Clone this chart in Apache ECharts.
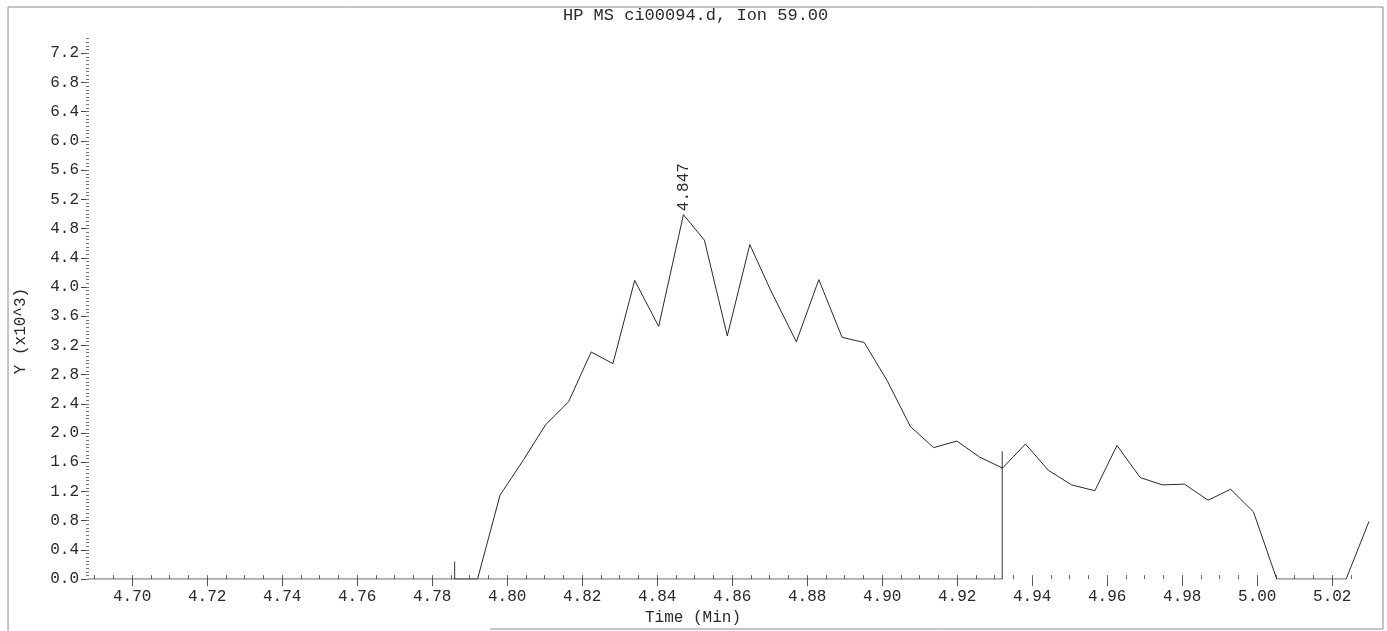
<!DOCTYPE html>
<html>
<head>
<meta charset="utf-8">
<script src="https://cdn.jsdelivr.net/npm/echarts@6/dist/echarts.min.js"></script>
<style>
  html, body { margin: 0; padding: 0; background: #ffffff; }
  #chart { width: 1387px; height: 631px; }
</style>
</head>
<body>
<div id="chart"></div>
<script>
// Extracted ion chromatogram, ion 59.00 — retention time (min) vs abundance (x10^3)
const scanTimes = [
  4.6885, 4.7921, 4.7981, 4.8042, 4.8102, 4.8164, 4.8224, 4.8282, 4.8340, 4.8404,
  4.847,  4.8526, 4.8587, 4.8647, 4.8702, 4.8771, 4.8831, 4.8893, 4.8952, 4.9014,
  4.9075, 4.9137, 4.9199, 4.9260, 4.9321, 4.9382, 4.9443, 4.9505, 4.9567, 4.9626,
  4.9688, 4.9747, 4.9806, 4.9869, 4.9929, 4.9990, 5.0052, 5.0237, 5.0298
];
const abundanceK = [
  0.00, 0.00, 1.15, 1.62, 2.11, 2.43, 3.11, 2.95, 4.09, 3.46,
  4.99, 4.64, 3.33, 4.58, 3.96, 3.25, 4.10, 3.31, 3.24, 2.71,
  2.09, 1.80, 1.89, 1.67, 1.52, 1.85, 1.49, 1.29, 1.21, 1.83,
  1.39, 1.29, 1.30, 1.08, 1.23, 0.92, 0.00, 0.00, 0.79
];
// Apex retention time annotated above the peak
const peakTime = 4.847;

// Integration events: start / end times and the heights of their tick marks
const integrationTimes = [4.786, 4.932];
const integrationTickHeights = [0.24, 1.75];

const xTickLabels = ['4.70', '4.72', '4.74', '4.76', '4.78', '4.80', '4.82', '4.84',
                     '4.86', '4.88', '4.90', '4.92', '4.94', '4.96', '4.98', '5.00', '5.02'];
const yTickLabels = ['0.0', '0.4', '0.8', '1.2', '1.6', '2.0', '2.4', '2.8', '3.2', '3.6',
                     '4.0', '4.4', '4.8', '5.2', '5.6', '6.0', '6.4', '6.8', '7.2'];

const titleText = 'HP MS ci00094.d, Ion 59.00';
const xName = 'Time (Min)';
const yName = 'Y (x10^3)';

// ---- derived structures ----
const X_MIN = 4.6885, X_MAX = 5.0298;
const Y_MIN = 0, Y_MAX = 7.45;

const xMajor = xTickLabels.map(Number);
const yMajor = yTickLabels.map(Number);
const xMinor = [];
for (let k = 0; k * 0.005 + 4.69 <= X_MAX + 1e-9; k++) xMinor.push(+(4.69 + k * 0.005).toFixed(3));
const yMinor = [];
for (let k = 0; k * 0.05 <= 7.4 + 1e-9; k++) yMinor.push(+(k * 0.05).toFixed(2));

const traceData = scanTimes.map((t, i) => [t, abundanceK[i]]);
const peakIndex = scanTimes.indexOf(peakTime);
const integrationPath = [
  [integrationTimes[0], integrationTickHeights[0]],
  [integrationTimes[0], 0],
  [integrationTimes[1], 0],
  [integrationTimes[1], integrationTickHeights[1]]
];

const FONT = '"Liberation Mono", "DejaVu Sans Mono", monospace';
const INK = '#2a2a2a';

const chart = echarts.init(document.getElementById('chart'), null, { renderer: 'canvas' });

chart.setOption({
  backgroundColor: '#ffffff',
  animation: false,
  textStyle: { fontFamily: FONT },
  title: {
    text: titleText,
    left: 563,
    top: 7,
    padding: 0,
    textStyle: { fontFamily: FONT, fontSize: 17, fontWeight: 'normal', color: INK }
  },
  grid: { left: 89, right: 18, top: 35, bottom: 44, containLabel: false },
  xAxis: [
    {
      type: 'value', min: X_MIN, max: X_MAX, offset: 2,
      name: xName, nameLocation: 'middle', nameGap: 24,
      nameTextStyle: { fontFamily: FONT, fontSize: 16, color: INK, padding: [0, 72, 0, 0] },
      axisLine: { show: false },
      splitLine: { show: false },
      axisTick: { show: true, length: 7, customValues: xMajor, lineStyle: { color: '#555', width: 1 } },
      axisLabel: {
        customValues: xMajor, margin: 8, hideOverlap: false,
        fontFamily: FONT, fontSize: 16, color: INK,
        formatter: v => xTickLabels[xMajor.indexOf(+v.toFixed(2))]
      }
    },
    {
      type: 'value', min: X_MIN, max: X_MAX, offset: 2,
      axisLine: { show: false }, splitLine: { show: false },
      axisTick: { show: true, length: 4, customValues: xMinor, lineStyle: { color: '#666', width: 1 } },
      axisLabel: { show: false }
    }
  ],
  yAxis: [
    {
      type: 'value', min: Y_MIN, max: Y_MAX,
      name: yName, nameLocation: 'middle', nameGap: 60, nameRotate: 90,
      nameTextStyle: { fontFamily: FONT, fontSize: 16, color: INK, padding: [0, 48, 0, 0] },
      axisLine: { show: false },
      splitLine: { show: false },
      axisTick: { show: true, length: 8, customValues: yMajor, lineStyle: { color: '#444', width: 1 } },
      axisLabel: {
        customValues: yMajor, margin: 10, hideOverlap: false,
        fontFamily: FONT, fontSize: 16, color: INK,
        formatter: v => yTickLabels[yMajor.indexOf(+v.toFixed(1))]
      }
    },
    {
      type: 'value', min: Y_MIN, max: Y_MAX, position: 'left',
      axisLine: { show: false }, splitLine: { show: false },
      axisTick: { show: true, length: 3, customValues: yMinor, lineStyle: { color: '#777', width: 1 } },
      axisLabel: { show: false }
    }
  ],
  series: [
    {
      type: 'line',
      data: traceData,
      xAxisIndex: 0, yAxisIndex: 0,
      symbol: 'none',
      lineStyle: { color: INK, width: 1 },
      silent: true,
      markPoint: {
        symbol: 'circle', symbolSize: 1,
        itemStyle: { color: 'rgba(0,0,0,0)' },
        data: [{ coord: traceData[peakIndex], value: peakTime }],
        label: {
          show: true, position: 'top', distance: 3,
          rotate: 90, align: 'left', verticalAlign: 'middle',
          fontFamily: FONT, fontSize: 16, color: INK,
          formatter: p => p.value.toFixed(3)
        }
      }
    },
    {
      type: 'line',
      data: integrationPath,
      xAxisIndex: 0, yAxisIndex: 0,
      symbol: 'none',
      lineStyle: { color: '#333', width: 1 },
      silent: true
    }
  ],
  graphic: [
    // page frame around the plot
    { type: 'polyline', silent: true, shape: { points: [[8, 631], [8, 7], [1383, 7], [1383, 629], [490, 629]] },
      style: { stroke: '#8a8a8a', lineWidth: 1, fill: null } }
  ]
});
</script>
</body>
</html>
